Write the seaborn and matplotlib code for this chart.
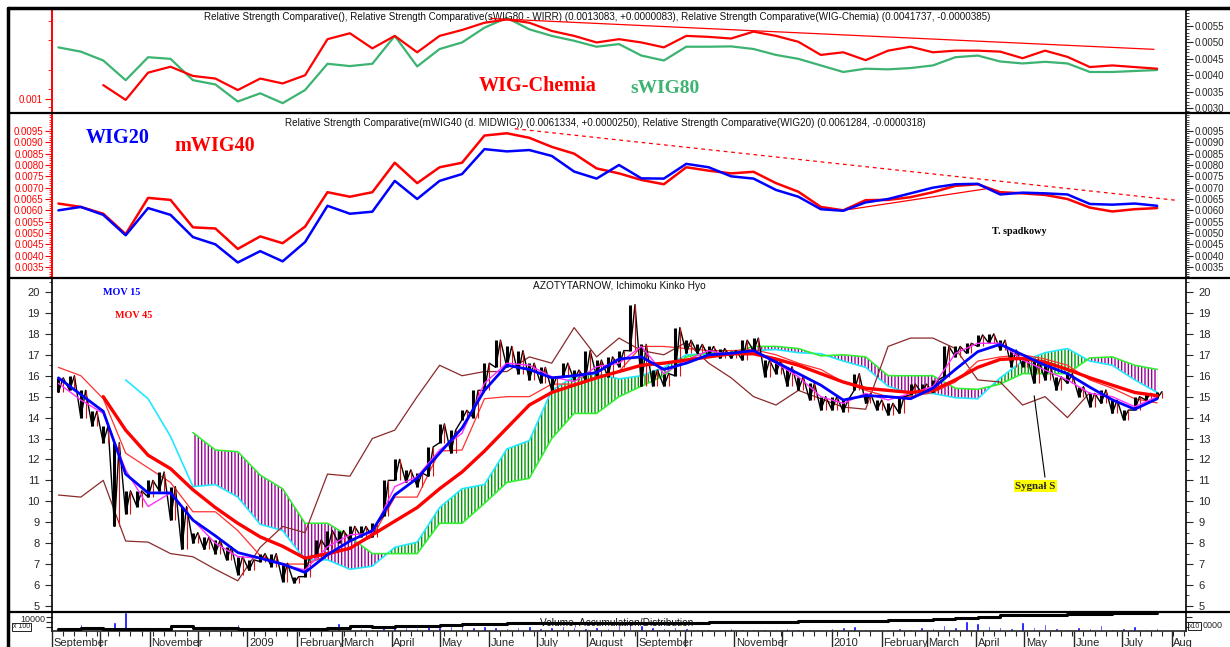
import numpy as np
import pandas as pd
import matplotlib
matplotlib.use("Agg")
import matplotlib.pyplot as plt
import matplotlib.dates as mdates
from matplotlib.lines import Line2D
from matplotlib.ticker import FixedLocator, MultipleLocator, FuncFormatter, NullFormatter
import seaborn as sns

nan = np.nan
W, H = 1230, 647

# time grid: weekly bars, fortnightly samples for the smoother lines
weeks = pd.date_range("2008-09-05", periods=99, freq="7D")
fortnights = weeks[::2]

# --- panel 1: relative strength vs WIG (values in 1/1000) ---
rs_swig80 = [4.85, 4.72, 4.45, 3.85, 4.55, 4.5, 3.85, 3.72, 3.2, 3.45,
             3.15, 3.55, 4.35, 4.28, 4.35, 5.2, 4.27, 4.8, 5.0, 5.45,
             5.75, 5.4, 5.2, 5.05, 4.87, 4.95, 4.6, 4.45, 4.87, 4.87,
             4.88, 4.8, 4.62, 4.5, 4.3, 4.1, 4.2, 4.18, 4.22, 4.3,
             4.55, 4.6, 4.42, 4.36, 4.41, 4.36, 4.1, 4.1, 4.13, 4.16]
rs_chemia = [nan, nan, 3.7, 3.25, 4.08, 4.26, 3.98, 3.9, 3.55, 3.9,
             3.75, 4.0, 5.1, 5.28, 4.82, 5.2, 4.7, 5.2, 5.38, 5.6,
             5.7, 5.6, 5.35, 5.2, 5.0, 5.1, 5.0, 4.85, 5.2, 5.17,
             5.12, 5.33, 5.2, 5.02, 4.62, 4.7, 4.46, 4.75, 4.87, 4.7,
             4.75, 4.75, 4.72, 4.52, 4.75, 4.56, 4.25, 4.3, 4.25, 4.2]
chemia_trend_dates = ["2009-06-02", "2010-07-21"]
chemia_trend_values = [5.73, 4.79]

# --- panel 2: relative strength WIG20 / mWIG40 (values in 1/1000) ---
rs_wig20 = [6.0, 6.15, 5.8, 4.9, 6.1, 5.8, 4.82, 4.5, 3.7, 4.2,
            3.75, 4.6, 6.2, 5.85, 5.94, 7.3, 6.5, 7.3, 7.6, 8.7,
            8.6, 8.66, 8.4, 7.71, 7.4, 8.0, 7.41, 7.4, 8.05, 7.9,
            7.5, 7.4, 6.9, 6.6, 6.05, 5.98, 6.35, 6.5, 6.75, 7.0,
            7.15, 7.17, 6.7, 6.78, 6.75, 6.7, 6.28, 6.25, 6.3, 6.2]
rs_mwig40 = [6.3, 6.15, 5.85, 4.95, 6.55, 6.46, 5.25, 5.2, 4.3, 4.85,
             4.55, 5.28, 6.8, 6.6, 6.8, 8.1, 7.2, 7.9, 8.1, 9.3,
             9.4, 9.2, 8.8, 8.5, 7.85, 7.63, 7.34, 7.15, 7.9, 7.75,
             7.63, 7.7, 7.2, 6.82, 6.15, 6.0, 6.45, 6.46, 6.58, 6.8,
             7.08, 7.15, 6.8, 6.75, 6.68, 6.5, 6.12, 5.95, 6.05, 6.1]
down_trend_dates = ["2009-06-17", "2010-08-03"]
down_trend_values = [9.6, 6.45]
up_trend_dates = ["2010-01-12", "2010-04-09"]
up_trend_values = [6.04, 6.97]

# --- panel 3: AZOTYTARNOW price and indicators ---
price_low = [15.2, 15.3, 14.0, 13.6, 12.8, 8.8, 9.4, 9.75, 10.2, 10.5,
             9.1, 7.7, 8.0, 7.7, 7.5, 7.2, 6.5, 6.7, 7.12, 6.88,
             6.16, 6.1, 6.4, 7.36, 7.7, 8.0, 8.15, 8.3, 8.3, 9.3,
             11.0, 10.9, 10.7, 11.2, 12.8, 12.3, 13.9, 14.0, 15.3, 16.4,
             16.4, 16.1, 15.8, 15.65, 15.3, 15.95, 15.8, 15.8, 15.95, 15.95,
             16.43, 17.2, 15.5, 15.5, 15.5, 16.0, 17.07, 17.07, 16.9, 16.83,
             16.83, 16.75, 17.2, 15.95, 16.1, 15.5, 15.32, 14.84, 14.36, 14.36,
             14.28, 15.32, 14.68, 14.36, 14.12, 14.2, 15.1, 15.2, 15.2, 15.96,
             16.9, 17.07, 17.4, 17.55, 17.23, 16.43, 16.43, 15.64, 15.8, 15.32,
             15.64, 15.0, 14.52, 14.68, 14.2, 13.89, 14.36, 14.84, 14.92]
price_high = [15.9, 16.0, 15.3, 14.3, 13.6, 12.8, 10.5, 10.5, 11.0, 11.4,
              10.7, 9.75, 8.5, 8.3, 8.15, 7.83, 7.36, 7.2, 7.5, 7.5,
              7.04, 6.4, 7.36, 8.15, 8.6, 8.6, 8.8, 8.8, 8.95, 11.0,
              12.0, 11.5, 11.35, 12.6, 13.7, 13.4, 14.35, 15.3, 16.6, 17.7,
              17.4, 17.2, 16.6, 16.4, 15.95, 16.6, 16.27, 17.2, 16.75, 16.9,
              17.2, 19.4, 17.5, 16.27, 16.1, 18.3, 17.7, 17.5, 17.4, 17.3,
              17.2, 17.7, 17.8, 16.75, 16.75, 16.43, 15.95, 15.64, 15.0, 15.0,
              14.84, 16.1, 15.16, 14.84, 14.68, 15.0, 15.6, 15.6, 15.8, 17.4,
              17.4, 17.55, 17.95, 18.0, 17.7, 17.23, 16.9, 16.75, 16.6, 15.96,
              16.1, 15.48, 15.16, 15.32, 14.84, 14.36, 15.0, 15.16, 15.24]
mov15 = [15.9, 15.1, 14.3, 11.3, 10.4, 10.4, 9.1, 8.35, 7.55, 7.28,
         7.0, 6.6, 7.45, 8.1, 8.6, 10.3, 11.1, 12.3, 13.5, 15.3,
         16.5, 16.3, 15.9, 16.0, 16.15, 16.8, 16.9, 16.3, 16.6, 17.0,
         17.07, 17.2, 16.65, 16.1, 15.55, 14.84, 15.05, 15.0, 14.9, 15.4,
         16.3, 17.15, 17.5, 17.0, 16.5, 16.1, 15.45, 14.85, 14.4, 14.9]
mov45 = [nan, nan, 15.0, 13.4, 12.2, 11.56, 10.55, 9.7, 8.95, 8.3,
         7.85, 7.28, 7.5, 7.75, 8.4, 9.05, 9.7, 10.6, 11.4, 12.4,
         13.5, 14.6, 15.2, 15.55, 15.9, 16.2, 16.5, 16.6, 16.75, 16.9,
         17.05, 17.05, 16.8, 16.5, 16.1, 15.7, 15.4, 15.3, 15.2, 15.3,
         15.8, 16.4, 16.78, 16.83, 16.65, 16.3, 15.9, 15.55, 15.2, 15.05]
tenkan = [15.64, 14.84, 14.2, 11.5, 9.75, 10.4, 9.1, 8.0, 7.36, 7.28,
          6.96, 6.72, 7.83, 8.4, 8.47, 10.7, 11.18, 12.45, 13.25, 15.64,
          16.6, 16.5, 15.95, 15.72, 16.43, 16.6, 17.4, 16.1, 16.75, 17.2,
          17.0, 17.2, 16.6, 15.95, 15.0, 14.68, 15.16, 14.84, 15.16, 15.48,
          17.07, 17.55, 17.55, 16.75, 16.27, 15.8, 15.16, 15.0, 14.52, 15.0]
kijun = [16.4, 16.0, 14.9, 12.3, 11.6, 10.9, 9.5, 9.5, 8.6, 7.4,
         7.0, 7.0, 7.4, 7.8, 8.3, 10.2, 10.2, 12.4, 12.45, 14.9,
         15.0, 15.0, 15.6, 15.6, 15.9, 16.2, 17.4, 17.4, 17.3, 17.2,
         17.2, 17.25, 17.0, 16.6, 16.3, 15.7, 15.3, 15.0, 15.0, 15.2,
         15.7, 16.7, 16.9, 17.0, 16.8, 16.5, 15.8, 15.4, 14.9, 14.7]
chikou = [10.3, 10.2, 11.0, 8.1, 8.05, 7.5, 7.35, 6.75, 6.2, 7.8,
          8.8, 8.5, 11.3, 11.2, 13.0, 13.4, 15.0, 16.5, 16.0, 16.2,
          16.2, 16.9, 16.6, 18.3, 16.9, 17.8, 17.2, 17.0, 17.6, 16.6,
          15.9, 15.0, 14.6, 15.3, 14.9, 14.5, 14.4, 17.4, 17.8, 17.8,
          17.3, 15.8, 15.7, 14.6, 15.0, 14.0, 15.2, nan, nan, nan]
senkou_a = [nan, nan, nan, 15.8, 14.9, 13.1, 10.7, 10.8, 10.2, 8.9,
            8.6, 7.2, 7.2, 6.75, 6.9, 7.8, 8.05, 9.7, 10.6, 10.8,
            12.5, 12.9, 15.3, 15.95, 16.1, 15.85, 16.0, 16.4, 17.0, 17.05,
            17.0, 17.2, 17.25, 17.1, 17.05, 16.7, 16.4, 15.5, 15.15, 15.15,
            14.95, 14.9, 15.9, 16.7, 17.1, 17.3, 16.7, 16.5, 15.8, 15.2]
senkou_b = [nan, nan, nan, nan, nan, nan, 13.28, 12.45, 12.37, 11.25,
            10.6, 8.95, 8.95, 8.3, 7.5, 7.5, 7.5, 8.95, 8.95, 9.9,
            10.9, 11.1, 13.0, 14.2, 14.2, 15.0, 15.5, 16.0, 16.9, 17.1,
            17.1, 17.4, 17.4, 17.3, 16.95, 17.0, 16.9, 16.0, 16.0, 16.0,
            15.4, 15.35, 15.6, 16.1, 16.1, 16.1, 16.85, 16.9, 16.5, 16.3]
signal_date, signal_value = "2010-05-07", 15.17
signal_text_date, signal_text_value = "2010-05-08", 10.73

# --- panel 4: volume and accumulation/distribution (share of panel height, %) ---
volume = [10, 12, 35, 12, 15, 50, 100, 20, 15, 12,
          10, 12, 10, 15, 12, 20, 35, 10, 8, 10,
          12, 10, 12, 15, 20, 40, 12, 15, 12, 25,
          25, 20, 15, 30, 20, 25, 30, 20, 25, 20,
          15, 20, 25, 15, 20, 25, 20, 15, 20, 15,
          30, 35, 30, 20, 15, 20, 15, 12, 10, 12,
          15, 10, 12, 10, 12, 15, 10, 12, 10, 15,
          20, 25, 12, 10, 12, 15, 10, 20, 15, 30,
          20, 55, 40, 25, 20, 15, 45, 20, 35, 15,
          12, 20, 15, 30, 12, 15, 25, 12, 15]
accum_dist = [13, 14, 13, 9, 10, 24, 17, 17, 10, 10,
              10, 10, 15, 24, 20, 28, 28, 33, 39, 39,
              41, 41, 42, 43, 44, 44, 44, 44, 44, 45,
              45, 45, 45, 52, 52, 51, 53, 56, 60, 64,
              70, 76, 83, 84, 86, 89, 88, 94, 94, 94]

month_starts = ["2008-09-01", "2008-11-01", "2009-01-01", "2009-02-01", "2009-03-01",
                "2009-04-01", "2009-05-01", "2009-06-01", "2009-07-01", "2009-08-01",
                "2009-09-01", "2009-11-01", "2010-01-01", "2010-02-01", "2010-03-01",
                "2010-04-01", "2010-05-01", "2010-06-01", "2010-07-01", "2010-08-01"]
month_names = ["September", "November", "2009", "February", "March", "April", "May",
               "June", "July", "August", "September", "November", "2010", "February",
               "March", "April", "May", "June", "July", "Aug"]

sns.set_style("white")
plt.rcParams['font.family'] = ['Liberation Sans', 'DejaVu Sans']
plt.rcParams['hatch.linewidth'] = 1.0

SEA = "#3cb371"
SERIF = "Liberation Serif"
x_start, x_end = pd.Timestamp("2008-09-01"), pd.Timestamp("2010-08-10")

fig = plt.figure(figsize=(W / 100, H / 100), dpi=100)


def px_rect(top, bottom, left=52, right=1186):
    return [left / W, 1 - bottom / H, (right - left) / W, (bottom - top) / H]


def base_axes(rect):
    ax = fig.add_axes(rect)
    ax.set_xlim(x_start, x_end)
    for s in ["top", "bottom"]:
        ax.spines[s].set_visible(False)
    for s in ["left", "right"]:
        ax.spines[s].set_color("black")
        ax.spines[s].set_linewidth(1.2)
    ax.tick_params(axis="x", bottom=False, labelbottom=False)
    return ax


def mil_fmt(v, p):
    return f"{v / 1000:.4f}"


# ---------------- panel 1 ----------------
ax1 = base_axes(px_rect(8, 113))
sns.lineplot(x=fortnights, y=rs_swig80, ax=ax1, color=SEA, lw=1.6, zorder=3)
sns.lineplot(x=fortnights, y=rs_chemia, ax=ax1, color="red", lw=1.6, zorder=4)
sns.lineplot(x=pd.to_datetime(chemia_trend_dates), y=chemia_trend_values, ax=ax1,
             color="red", lw=0.9, zorder=5)
ax1.set_ylim(2.85, 6.05)
ax1.set(xlabel="", ylabel="")

# twin for the left red scale (twinx resets the parent's tick side, so set sides after it)
ax1l = ax1.twinx()
ax1.yaxis.set_ticks_position("right")
ax1.yaxis.set_label_position("right")
ax1l.yaxis.set_ticks_position("left")
ax1.yaxis.set_major_locator(FixedLocator(np.arange(3.0, 5.6, 0.5)))
ax1.yaxis.set_minor_locator(MultipleLocator(0.1))
ax1.yaxis.set_major_formatter(FuncFormatter(mil_fmt))
ax1.tick_params(axis="y", which="major", right=True, left=False, labelright=True, labelleft=False,
                length=5, width=0.8, labelsize=7, pad=1, direction="out")
ax1.tick_params(axis="y", which="minor", right=True, left=False, length=2.5, width=0.6)
ax1.spines["left"].set_visible(False)

ax1l.set_ylim(0.00086, 0.00193)
for s in ["top", "bottom", "right"]:
    ax1l.spines[s].set_visible(False)
ax1l.spines["left"].set_visible(True)
ax1l.spines["left"].set_color("red")
ax1l.spines["left"].set_linewidth(1.4)
ax1l.yaxis.set_major_locator(FixedLocator([0.001]))
ax1l.yaxis.set_major_formatter(FuncFormatter(lambda v, p: "0.001"))
ax1l.yaxis.set_minor_locator(FixedLocator([0.00092, 0.0011, 0.0013, 0.0016, 0.0018]))
ax1l.tick_params(axis="y", which="major", left=True, right=False, labelleft=True, labelright=False,
                 length=5, width=0.8, color="red", labelcolor="red", labelsize=7, pad=2)
ax1l.tick_params(axis="y", which="minor", left=True, right=False, length=3, color="red")
ax1l.tick_params(axis="x", bottom=False, labelbottom=False)

ax1.text(0.134, 0.914, "Relative Strength Comparative(), Relative Strength Comparative(sWIG80 - WIRR) "
         "(0.0013083, +0.0000083), Relative Strength Comparative(WIG-Chemia) (0.0041737, -0.0000385)",
         transform=ax1.transAxes, fontsize=7.1, ha="left", va="center", color="#111111")
ax1.text(0.4286, 0.257, "WIG-Chemia", transform=ax1.transAxes, fontsize=14.5, family=SERIF,
         weight="bold", color="red", ha="center", va="center")
ax1.text(0.5406, 0.229, "sWIG80", transform=ax1.transAxes, fontsize=14, family=SERIF,
         weight="bold", color=SEA, ha="center", va="center")

# ---------------- panel 2 ----------------
ax2 = base_axes(px_rect(113, 278))
sns.lineplot(x=pd.to_datetime(down_trend_dates), y=down_trend_values, ax=ax2, color="red",
             lw=0.9, ls=(0, (3, 3)), zorder=2)
sns.lineplot(x=pd.to_datetime(up_trend_dates), y=up_trend_values, ax=ax2, color="red",
             lw=0.9, zorder=2)
sns.lineplot(x=fortnights, y=rs_mwig40, ax=ax2, color="red", lw=1.8, zorder=3)
sns.lineplot(x=fortnights, y=rs_wig20, ax=ax2, color="blue", lw=1.8, zorder=4)
ax2.set_ylim(3.015, 10.294)
ax2.set(xlabel="", ylabel="")

ax2r = ax2.twinx()
ax2.yaxis.set_ticks_position("left")
ax2r.yaxis.set_ticks_position("right")
ticks2 = np.arange(3.5, 9.6, 0.5)
ax2.yaxis.set_major_locator(FixedLocator(ticks2))
ax2.yaxis.set_minor_locator(MultipleLocator(0.1))
ax2.yaxis.set_major_formatter(FuncFormatter(mil_fmt))
ax2.tick_params(axis="y", which="major", left=True, right=False, labelleft=True, labelright=False,
                length=5, width=0.8, color="red", labelcolor="red", labelsize=7, pad=1)
ax2.tick_params(axis="y", which="minor", left=True, right=False, length=2.5, width=0.6, color="red")
ax2.spines["left"].set_color("red")
ax2.spines["left"].set_linewidth(1.4)

ax2r.set_ylim(3.015, 10.294)
for s in ["top", "bottom", "left"]:
    ax2r.spines[s].set_visible(False)
ax2r.spines["right"].set_linewidth(1.2)
ax2r.yaxis.set_major_locator(FixedLocator(ticks2))
ax2r.yaxis.set_minor_locator(MultipleLocator(0.1))
ax2r.yaxis.set_major_formatter(FuncFormatter(mil_fmt))
ax2r.tick_params(axis="y", which="major", right=True, labelright=True, length=5, width=0.8,
                 labelsize=7, pad=1)
ax2r.tick_params(axis="y", which="minor", right=True, length=2.5, width=0.6)
ax2r.tick_params(axis="x", bottom=False, labelbottom=False)

ax2.text(0.2055, 0.939, "Relative Strength Comparative(mWIG40 (d. MIDWIG)) (0.0061334, +0.0000250), "
         "Relative Strength Comparative(WIG20) (0.0061284, -0.0000318)",
         transform=ax2.transAxes, fontsize=7.1, ha="left", va="center", color="#111111")
ax2.text(0.058, 0.848, "WIG20", transform=ax2.transAxes, fontsize=14.5, family=SERIF,
         weight="bold", color="blue", ha="center", va="center")
ax2.text(0.1437, 0.80, "mWIG40", transform=ax2.transAxes, fontsize=14.5, family=SERIF,
         weight="bold", color="red", ha="center", va="center")
ax2.text(0.853, 0.279, "T. spadkowy", transform=ax2.transAxes, fontsize=7.3, family=SERIF,
         weight="bold", color="black", ha="center", va="center")

# ---------------- panel 3 ----------------
ax3 = base_axes(px_rect(278, 612))
a = np.array(senkou_a, dtype=float)
b = np.array(senkou_b, dtype=float)
both = ~np.isnan(a) & ~np.isnan(b)
ax3.fill_between(fortnights, a, b, where=both & (b > a), interpolate=True, facecolor="none",
                 edgecolor="#9a009a", hatch="|||||", linewidth=0, zorder=1)
ax3.fill_between(fortnights, a, b, where=both & (a >= b), interpolate=True, facecolor="none",
                 edgecolor="#009a00", hatch="|||||", linewidth=0, zorder=1)
sns.lineplot(x=fortnights, y=senkou_a, ax=ax3, color="#22e8ff", lw=1.2, zorder=2)
sns.lineplot(x=fortnights, y=senkou_b, ax=ax3, color="#33ee33", lw=1.2, zorder=2)
sns.lineplot(x=fortnights, y=chikou, ax=ax3, color="#8b2a2a", lw=0.9, zorder=2)
sns.lineplot(x=fortnights, y=kijun, ax=ax3, color="#ff3030", lw=0.9, zorder=3)

# weekly price ranges: bars plus a low/high zig-zag to mimic the dense daily candles
ax3.vlines(weeks, price_low, price_high, color="black", lw=2.2, zorder=4)
zig_x = np.empty(2 * len(weeks), dtype="datetime64[ns]")
zig_x[0::2] = weeks.values
zig_x[1::2] = (weeks + pd.Timedelta(days=3)).values
zig_y = np.empty(2 * len(weeks))
zig_y[0::2] = price_low
zig_y[1::2] = price_high
ax3.plot(zig_x, zig_y, color="black", lw=1.0, zorder=4)
ax3.vlines(weeks + pd.Timedelta(days=3), price_low, price_high, color="#e01010", lw=0.8, zorder=4)

sns.lineplot(x=fortnights, y=tenkan, ax=ax3, color="#ff30ff", lw=1.0, zorder=5)
sns.lineplot(x=fortnights, y=mov45, ax=ax3, color="red", lw=2.4, zorder=6)
sns.lineplot(x=fortnights, y=mov15, ax=ax3, color="blue", lw=2.0, zorder=7)
ax3.set_ylim(4.71, 20.67)
ax3.yaxis.set_major_locator(FixedLocator(np.arange(5, 21, 1)))
ax3.yaxis.set_minor_locator(MultipleLocator(0.5))
ax3.tick_params(axis="y", which="major", left=True, right=True, labelleft=True, labelright=True,
                length=5, width=0.8, labelsize=8, pad=4)
ax3.tick_params(axis="y", which="minor", left=True, right=True, length=2.5, width=0.6)
ax3.set(xlabel="", ylabel="")
ax3.text(0.5, 0.976, "AZOTYTARNOW, Ichimoku Kinko Hyo", transform=ax3.transAxes, fontsize=7.3,
         ha="center", va="center", color="#111111")
ax3.text(0.045, 0.958, "MOV 15", transform=ax3.transAxes, fontsize=7.3, family=SERIF,
         weight="bold", color="blue", ha="left", va="center")
ax3.text(0.0556, 0.889, "MOV 45", transform=ax3.transAxes, fontsize=7.3, family=SERIF,
         weight="bold", color="red", ha="left", va="center")
ax3.annotate("Sygnał S", xy=(pd.Timestamp(signal_date), signal_value),
             xytext=(pd.Timestamp(signal_text_date), signal_text_value),
             fontsize=7.8, family=SERIF, weight="bold", ha="center", va="center",
             bbox=dict(boxstyle="square,pad=0.15", fc="yellow", ec="none"),
             arrowprops=dict(arrowstyle="-", color="black", lw=0.8, relpos=(0.75, 1.0)),
             zorder=8)

# ---------------- panel 4 ----------------
ax4 = base_axes(px_rect(612, 631))
ax4.spines["bottom"].set_visible(True)
ax4.spines["bottom"].set_linewidth(1.2)
ax4.bar(weeks, volume, width=1.6, color="blue", zorder=2)
sns.lineplot(x=fortnights, y=accum_dist, ax=ax4, color="black", lw=2.2,
             drawstyle="steps-post", zorder=3)
ax4.set_ylim(0, 100)
ax4.yaxis.set_major_locator(FixedLocator([20, 45, 75]))
ax4.yaxis.set_major_formatter(NullFormatter())
ax4.tick_params(axis="y", left=True, right=True, length=4, width=0.8)
ax4.set(xlabel="", ylabel="")
ax4.xaxis.set_major_locator(mdates.MonthLocator())
ax4.xaxis.set_minor_locator(mdates.WeekdayLocator(byweekday=mdates.MO))
ax4.xaxis.set_major_formatter(NullFormatter())
ax4.xaxis.set_minor_formatter(NullFormatter())
ax4.tick_params(axis="x", which="major", bottom=True, length=12, width=1.0, direction="out")
ax4.tick_params(axis="x", which="minor", bottom=True, length=3.5, width=0.8, direction="out")
for d, name in zip(month_starts, month_names):
    ax4.text(pd.Timestamp(d) + pd.Timedelta(days=1), -0.65, name, transform=ax4.get_xaxis_transform(),
             ha="left", va="center", fontsize=8, clip_on=False)
ax4.text(0.498, 0.47, "Volume, Accumulation/Distribution", transform=ax4.transAxes,
         fontsize=7.3, ha="center", va="center", color="#111111", zorder=4)
fig.text(13 / W, 1 - 627 / H, "x 100", fontsize=5, va="center", ha="left",
         bbox=dict(boxstyle="square,pad=0.1", fc="white", ec="black", lw=0.6))
fig.text(20 / W, 1 - 620 / H, "10000", fontsize=6.5, va="center", ha="left")
fig.text(1189 / W, 1 - 626 / H, "x10", fontsize=5, va="center", ha="left",
         bbox=dict(boxstyle="square,pad=0.1", fc="white", ec="black", lw=0.6))
fig.text(1203 / W, 1 - 626 / H, "0000", fontsize=6.5, va="center", ha="left")

# ---------------- outer frame and panel separators ----------------
frame = dict(transform=fig.transFigure, color="black")
fig.add_artist(Line2D([8 / W, 8 / W], [1 - 8 / H, 0], lw=2.5, **frame))
fig.add_artist(Line2D([8 / W, 1], [1 - 8 / H, 1 - 8 / H], lw=2.5, **frame))
for y in (113, 278, 612):
    fig.add_artist(Line2D([8 / W, 1], [1 - y / H, 1 - y / H], lw=1.6, **frame))

fig.savefig("out.png", dpi=100)
